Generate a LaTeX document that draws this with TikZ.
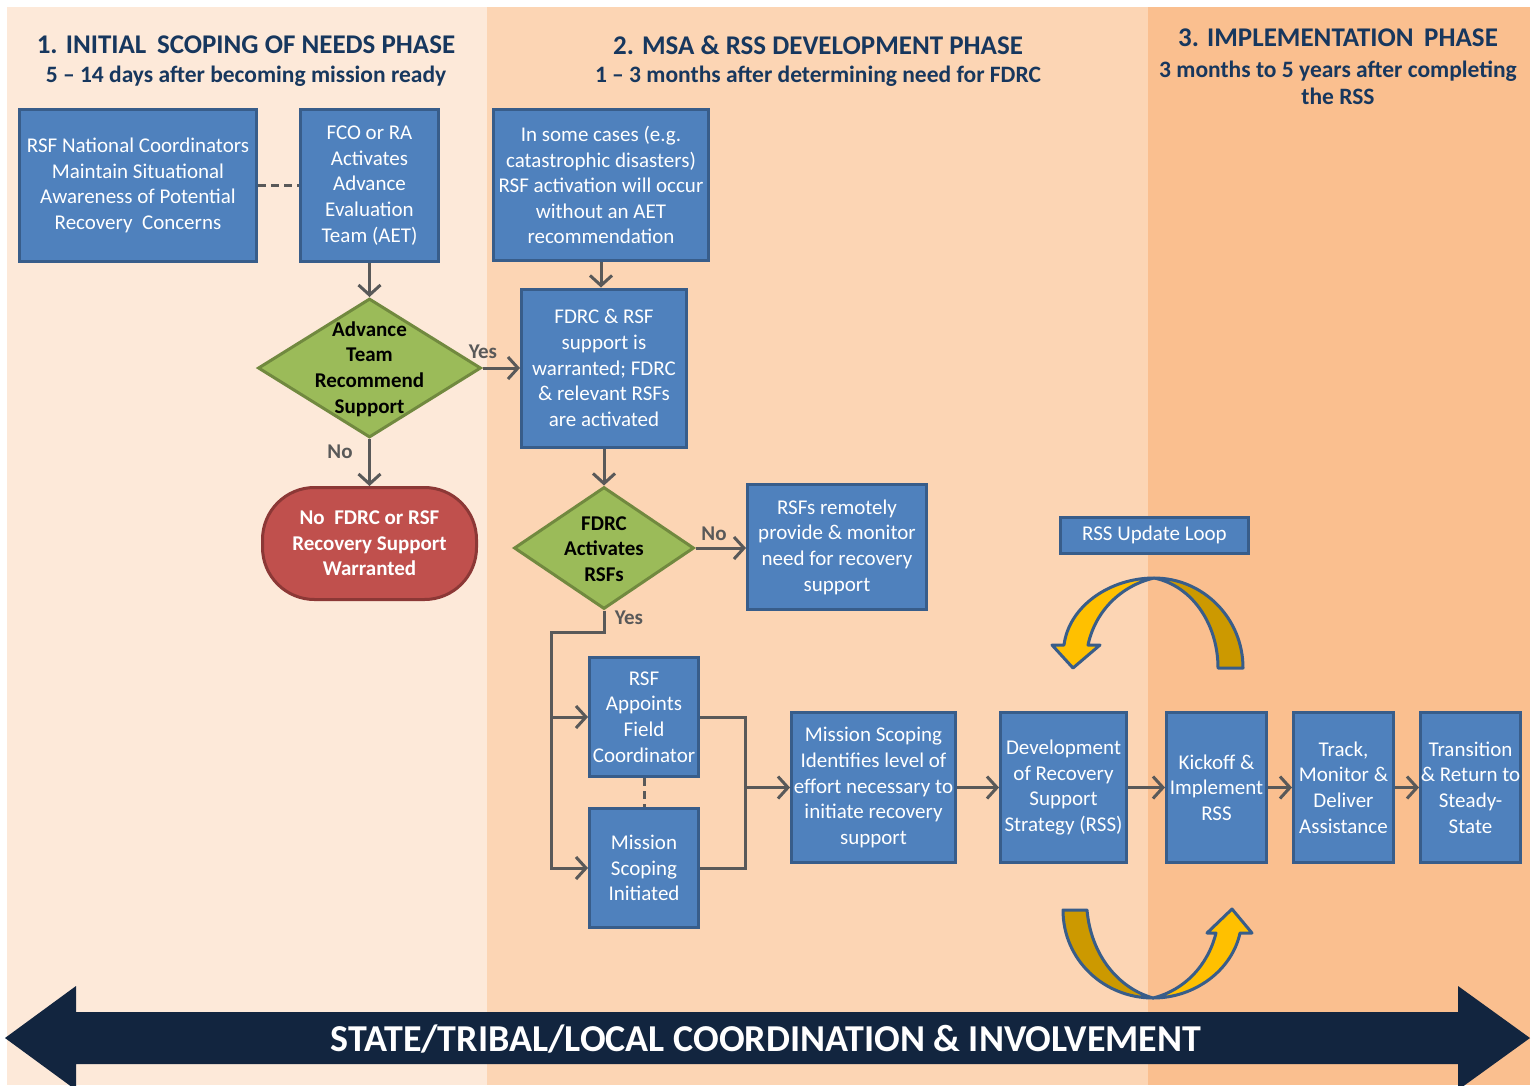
\documentclass[tikz,border=0pt]{standalone}
\usepackage{fontspec}
\setmainfont{Carlito}
\usetikzlibrary{shapes.geometric,arrows.meta,calc}
\definecolor{pA}{HTML}{FDE9D9}
\definecolor{pB}{HTML}{FCD5B4}
\definecolor{pC}{HTML}{FABF8F}
\definecolor{boxfill}{HTML}{4F81BD}
\definecolor{boxline}{HTML}{385D8A}
\definecolor{diafill}{HTML}{9BBB59}
\definecolor{dialine}{HTML}{71893F}
\definecolor{termfill}{HTML}{C0504D}
\definecolor{termline}{HTML}{8C3836}
\definecolor{linegray}{HTML}{595959}
\definecolor{titleblue}{HTML}{17375E}
\definecolor{navy}{HTML}{12253F}
\definecolor{loopyellow}{HTML}{FFC000}
\definecolor{loopgold}{HTML}{CC9900}
\tikzset{
  box/.style={draw=boxline, fill=boxfill, line width=3pt, text=white, align=center,
    inner sep=0pt, font=\fontsize{21}{25.6}\selectfont},
  dia/.style={diamond, draw=dialine, fill=diafill, line width=3pt, inner sep=0pt},
  diatext/.style={align=center, text=black, font=\bfseries\fontsize{21}{25.6}\selectfont},
  term/.style={draw=termline, fill=termfill, line width=3pt, text=white, align=center,
    inner sep=0pt, rounded corners=52pt, font=\bfseries\fontsize{21}{25.6}\selectfont},
  conn/.style={draw=linegray, line width=3pt, -{Straight Barb[length=10pt,width=22pt]}},
  plainline/.style={draw=linegray, line width=3pt},
  dashline/.style={draw=linegray, line width=3pt, dash pattern=on 8pt off 5pt},
  lbl/.style={text=linegray, font=\bfseries\fontsize{21}{24}\selectfont},
  ttl/.style={text=titleblue, align=center, font=\bfseries\fontsize{27}{31}\selectfont},
  sub/.style={text=titleblue, align=center, font=\bfseries\fontsize{23.5}{27}\selectfont},
  loop/.style={draw=boxline, line width=3pt, line join=round},
}
\begin{document}
\begin{tikzpicture}[x=1pt,y=-1pt]
\useasboundingbox (0,0) rectangle (1536,1085);
\clip (0,0) rectangle (1536,1085);
\fill[white] (0,0) rectangle (1536,1085);
\fill[pA] (7,7) rectangle (487,1085);
\fill[pB] (487,7) rectangle (1148,1085);
\fill[pC] (1148,7) rectangle (1530,1085);

% titles
\node[ttl] (t1) at (246,45) {1. INITIAL\, SCOPING OF NEEDS PHASE};
\node[sub] (s1) at (246,76) {5 -- 14 days after becoming mission ready};
\node[ttl] (t2) at (818,45) {2. MSA \& RSS DEVELOPMENT PHASE};
\node[sub] (s2) at (818,76) {1 -- 3 months after determining need for FDRC};
\node[ttl] (t3) at (1338,38) {3. IMPLEMENTATION\, PHASE};
\node[sub] (s3) at (1338,82.5) {3 months to 5 years after completing\\the RSS};

% boxes
\node[box, minimum width=237, minimum height=152] (A) at (138,185.5)
  {\raisebox{-2pt}{\parbox{237pt}{\centering RSF National Coordinators\\Maintain Situational\\Awareness of Potential\\Recovery\ \ Concerns}}};
\node[box, minimum width=138, minimum height=152] (B) at (369.5,185.5)
  {FCO or RA\\Activates\\Advance\\Evaluation\\Team (AET)};
\node[box, minimum width=215, minimum height=151] (D) at (601,185)
  {In some cases (e.g.\\catastrophic disasters)\\RSF activation will occur\\without an AET\\recommendation};
\node[box, minimum width=165, minimum height=158] (C) at (604,368)
  {FDRC \& RSF\\support is\\warranted; FDRC\\\& relevant RSFs\\are activated};
\node[dia, minimum width=223, minimum height=139] (d1) at (369.5,368) {};
\node[diatext] (d1t) at (369.5,369) {Advance\\Team\\Recommend\\Support};
\node[term, minimum width=214, minimum height=112] (R) at (369.5,543.5)
  {No\ \ FDRC or RSF\\Recovery Support\\Warranted};
\node[dia, minimum width=180, minimum height=122] (d2) at (604,548) {};
\node[diatext] (d2t) at (604,549) {FDRC\\Activates\\RSFs};
\node[box, minimum width=179, minimum height=125] (E) at (837,547)
  {RSFs remotely\\provide \& monitor\\need for recovery\\support};
\node[box, minimum width=109, minimum height=119] (F) at (644,717)
  {RSF\\Appoints\\Field\\Coordinator};
\node[box, minimum width=109, minimum height=119] (G) at (644,868)
  {Mission\\Scoping\\Initiated};
\node[box, minimum width=164, minimum height=150] (H) at (873.5,787.5)
  {Mission Scoping\\Identifies level of\\effort necessary to\\initiate recovery\\support};
\node[box, minimum width=126, minimum height=150] (I) at (1063.5,787.5)
  {Development\\of Recovery\\Support\\Strategy (RSS)};
\node[box, minimum width=100, minimum height=150] (J) at (1216.5,787.5)
  {Kickoff \&\\Implement\\RSS};
\node[box, minimum width=100, minimum height=150] (K) at (1343.5,787.5)
  {Track,\\Monitor \&\\Deliver\\Assistance};
\node[box, minimum width=100, minimum height=150] (L) at (1470.5,787.5)
  {Transition\\\& Return to\\Steady-\\State};
\node[box, minimum width=188, minimum height=36] (U) at (1154.5,535) {RSS Update Loop};

% connectors
\draw[dashline] (A.east) -- (B.west);
\draw[conn] (B.south) -- (d1.north);
\draw[conn] (d1.east) -- (d1.east -| C.west);
\node[lbl] (yes1) at (483,352) {Yes};
\draw[conn] (d1.south) -- (R.north);
\node[lbl] (no1) at (340,452) {No};
\draw[conn] (D.south) -- (D.south |- C.north);
\draw[conn] (C.south) -- (d2.north);
\draw[conn] (d2.east) -- (d2.east -| E.west);
\node[lbl] (no2) at (714,534) {No};
\node[lbl] (yes2) at (629,618) {Yes};
\coordinate (split) at (551,632);
\coordinate (merge) at (745,787.5);
\draw[plainline] (d2.south) -- (d2.south |- split) -- (split) -- (split |- F.west);
\draw[conn] (split |- F.west) -- (F.west);
\draw[conn] (split |- F.west) |- (G.west);
\draw[dashline] (F.south) -- (G.north);
\draw[plainline] (F.east) -| (merge);
\draw[plainline] (G.east) -| (merge);
\draw[conn] (merge) -- (H.west);
\draw[conn] (H.east) -- (I.west);
\draw[conn] (I.east) -- (J.west);
\draw[conn] (J.east) -- (K.west);
\draw[conn] (K.east) -- (L.west);

% update loop arrows (top)
\filldraw[loop, fill=loopgold] (1243,668) .. controls (1243,618) and (1203,578) .. (1154,578)
  .. controls (1193,586) and (1218,625) .. (1218,668) -- cycle;
\filldraw[loop, fill=loopyellow] (1154,578) .. controls (1110,578) and (1069,606) .. (1064,645)
  -- (1052,645) -- (1073,668) -- (1100,645) -- (1088,645)
  .. controls (1095,612) and (1120,586) .. (1154,578) -- cycle;
% update loop arrows (bottom)
\filldraw[loop, fill=loopgold] (1063,910) -- (1087,910) .. controls (1091,955) and (1118,988) .. (1153,998)
  .. controls (1104,998) and (1063,960) .. (1063,910) -- cycle;
\filldraw[loop, fill=loopyellow] (1153,998) .. controls (1195,998) and (1232,970) .. (1240,933)
  -- (1252,933) -- (1232,909) -- (1207,933) -- (1216,933)
  .. controls (1208,965) and (1185,990) .. (1153,998) -- cycle;

% big double arrow
\fill[navy] (5,1038) -- (76,986) -- (76,1012) -- (1458,1012) -- (1458,986) -- (1530,1038)
  -- (1458,1090) -- (1458,1064) -- (76,1064) -- (76,1090) -- cycle;
\node[text=white, font=\bfseries\fontsize{38}{44}\selectfont] (banner) at (766,1039)
  {STATE/TRIBAL/LOCAL COORDINATION \& INVOLVEMENT};
\end{tikzpicture}
\end{document}
